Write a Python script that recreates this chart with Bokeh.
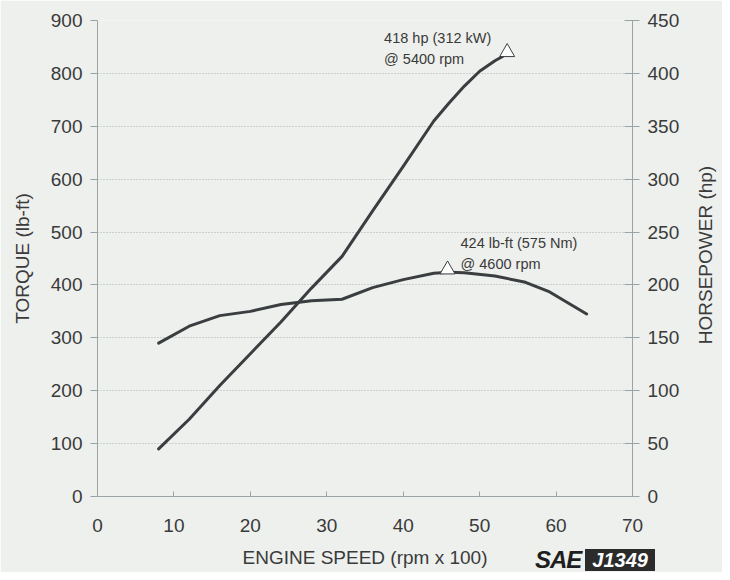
from bokeh.plotting import figure
from bokeh.models import LinearAxis, Range1d, FixedTicker, Label, Div
from bokeh.layouts import column
from bokeh.embed import file_html
from bokeh.resources import INLINE

# Data
rpm_torque = [8, 12, 16, 20, 24, 28, 32, 36, 40, 44, 46, 48, 52, 56, 59, 64]
torque = [290, 322, 342, 350, 363, 370, 373, 395, 410, 422, 424, 423, 417, 405, 388, 345]
rpm_hp = [8, 12, 16, 20, 24, 28, 32, 36, 40, 44, 46, 48, 50, 52, 53]
hp = [45, 73, 105, 135, 165, 197, 227, 270, 312, 355, 372, 388, 402, 412, 416]

peak_torque_rpm = [45.8]
peak_torque = [424]
peak_hp_rpm = [53.6]
peak_hp = [418]

x_ticks = [0, 10, 20, 30, 40, 50, 60, 70]
torque_ticks = [0, 100, 200, 300, 400, 500, 600, 700, 800, 900]
hp_ticks = [0, 50, 100, 150, 200, 250, 300, 350, 400, 450]

BG = "#eef0ed"
INK = "#3b3e40"
TXT = "#3a3a3a"
AXC = "#9aa4a6"
FONT = "Liberation Sans"
W, H = 722, 572

p = figure(width=W, height=H, output_backend="svg", toolbar_location=None,
           x_range=Range1d(0, 70), y_range=Range1d(0, 900),
           min_border_left=97, min_border_right=90, min_border_top=20, min_border_bottom=76,
           background_fill_color=BG, border_fill_color=BG, outline_line_color=None)
p.extra_y_ranges = {"hp": Range1d(0, 450)}

def style_axis(ax):
    ax.axis_line_color = AXC
    ax.axis_line_width = 1
    ax.major_tick_line_color = AXC
    ax.minor_tick_line_color = None
    ax.major_label_text_font = FONT
    ax.major_label_text_font_size = "19px"
    ax.major_label_text_color = TXT
    ax.axis_label_text_font = FONT
    ax.axis_label_text_font_size = "19px"
    ax.axis_label_text_font_style = "normal"
    ax.axis_label_text_color = TXT

xa = p.xaxis[0]
style_axis(xa)
xa.ticker = FixedTicker(ticks=x_ticks)
xa.major_tick_in = 5
xa.major_tick_out = 0
xa.major_label_standoff = 22
xa.axis_label = "ENGINE SPEED (rpm x 100)"
xa.axis_label_standoff = 12

ya = p.yaxis[0]
style_axis(ya)
ya.ticker = FixedTicker(ticks=torque_ticks)
ya.major_tick_in = 0
ya.major_tick_out = 7
ya.major_label_standoff = 8
ya.axis_label = "TORQUE (lb-ft)"
ya.axis_label_standoff = 15

ra = LinearAxis(y_range_name="hp", ticker=FixedTicker(ticks=hp_ticks))
style_axis(ra)
ra.major_tick_in = 8
ra.major_tick_out = 7
ra.major_label_standoff = 8
p.add_layout(ra, "right")

p.xgrid.grid_line_color = None
p.ygrid.ticker = FixedTicker(ticks=torque_ticks[1:])
p.ygrid.grid_line_color = "#a9b0b0"
p.ygrid.grid_line_dash = "1 2"
p.ygrid.grid_line_width = 1

p.line(rpm_torque, torque, line_color=INK, line_width=3, line_join="round", line_cap="round")
p.line(rpm_hp, hp, line_color=INK, line_width=3, line_join="round", line_cap="round", y_range_name="hp")

p.scatter(peak_torque_rpm, [v + 5 for v in peak_torque], marker="triangle", size=15,
          fill_color="white", line_color=INK, line_width=1)
p.scatter(peak_hp_rpm, [v + 2 for v in peak_hp], marker="triangle", size=15,
          fill_color="white", line_color=INK, line_width=1, y_range_name="hp")

for txt, x, y in [("418 hp (312 kW)", 37.5, 866), ("@ 5400 rpm", 37.5, 828),
                  ("424 lb-ft (575 Nm)", 47.5, 480), ("@ 4600 rpm", 47.5, 440)]:
    p.add_layout(Label(x=x, y=y, text=txt, text_font=FONT, text_font_size="14.5px",
                       text_color=TXT, text_baseline="middle", text_align="left"))

# Texts outside the plot frame (right axis title and SAE J1349 mark) as an HTML overlay
html = (
    f'<div style="position:relative;width:{W}px;height:{H}px;pointer-events:none;'
    f'font-family:\'Liberation Sans\',sans-serif;color:{TXT};">'
    '<div style="position:absolute;left:606px;top:244px;width:200px;height:22px;'
    'line-height:22px;text-align:center;font-size:19px;white-space:nowrap;'
    'transform:rotate(-90deg);transform-origin:50% 50%;">HORSEPOWER (hp)</div>'
    '<div style="position:absolute;left:535px;top:548px;height:22px;white-space:nowrap;'
    'line-height:22px;">'
    '<span style="font-weight:bold;font-style:italic;font-size:24px;line-height:22px;color:#1e1e1e;'
    'letter-spacing:-1px;vertical-align:middle;">SAE</span>'
    '<span style="display:inline-block;margin-left:4px;padding:0 7px 0 7px;background:#2b2b2b;'
    'color:#ffffff;font-weight:bold;font-style:italic;font-size:20px;line-height:22px;'
    'vertical-align:middle;">J1349</span>'
    '</div></div>'
)
overlay = Div(text=html, width=W, height=H, margin=(-H, 0, 0, 0))

layout = column(p, overlay, spacing=0)
open("out.html", "w").write(file_html(layout, INLINE))
